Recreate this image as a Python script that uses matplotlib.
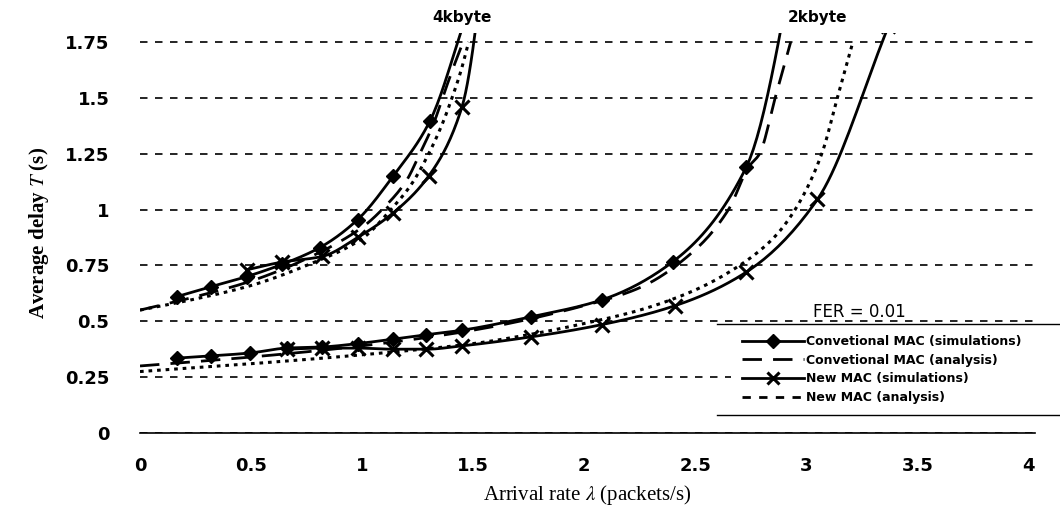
import numpy as np
import matplotlib.pyplot as plt

plt.rcParams['mathtext.fontset'] = 'stix'

# 4 kbyte packets
conv_sim_4k_x = [0.165, 0.32, 0.48, 0.64, 0.81, 0.98, 1.14, 1.305, 1.47]
conv_sim_4k_y = [0.61, 0.655, 0.70, 0.755, 0.83, 0.955, 1.15, 1.395, 1.87]
new_sim_4k_x = [0.48, 0.64, 0.82, 0.98, 1.14, 1.30, 1.45, 1.61]
new_sim_4k_y = [0.73, 0.765, 0.79, 0.875, 0.985, 1.15, 1.46, 2.62]
conv_ana_4k_x = [0, 0.25, 0.5, 0.75, 1.0, 1.1, 1.2, 1.26, 1.32, 1.38, 1.42, 1.455]
conv_ana_4k_y = [0.55, 0.61, 0.68, 0.78, 0.92, 1.01, 1.13, 1.25, 1.38, 1.55, 1.66, 1.75]
new_ana_4k_x = [0, 0.25, 0.5, 0.75, 1.0, 1.13, 1.22, 1.30, 1.36, 1.405, 1.445, 1.48]
new_ana_4k_y = [0.55, 0.60, 0.66, 0.75, 0.87, 1.0, 1.11, 1.25, 1.38, 1.5, 1.62, 1.75]

# 2 kbyte packets
conv_sim_2k_x = [0.165, 0.32, 0.495, 0.66, 0.82, 0.98, 1.14, 1.29, 1.45, 1.76, 2.08, 2.40, 2.73, 3.05]
conv_sim_2k_y = [0.335, 0.345, 0.358, 0.38, 0.385, 0.40, 0.42, 0.44, 0.46, 0.52, 0.596, 0.767, 1.19, 2.68]
new_sim_2k_x = [0.66, 0.82, 0.98, 1.14, 1.29, 1.45, 1.76, 2.08, 2.41, 2.73, 3.05, 3.37]
new_sim_2k_y = [0.375, 0.38, 0.38, 0.375, 0.375, 0.39, 0.43, 0.485, 0.57, 0.72, 1.045, 1.82]
conv_ana_2k_x = [0, 0.5, 1.0, 1.5, 2.0, 2.25, 2.5, 2.65, 2.74, 2.79, 2.86, 2.93]
conv_ana_2k_y = [0.30, 0.34, 0.39, 0.46, 0.57, 0.65, 0.82, 1.0, 1.19, 1.25, 1.5, 1.75]
new_ana_2k_x = [0, 0.5, 1.0, 1.5, 1.75, 2.0, 2.25, 2.5, 2.7, 2.85, 2.95, 3.07, 3.14, 3.21]
new_ana_2k_y = [0.275, 0.31, 0.35, 0.40, 0.44, 0.49, 0.55, 0.64, 0.75, 0.87, 1.0, 1.25, 1.5, 1.75]

x_ticks = [0, 0.5, 1, 1.5, 2, 2.5, 3, 3.5, 4]
x_tick_labels = ['0', '0.5', '1', '1.5', '2', '2.5', '3', '3.5', '4']
y_ticks = [0, 0.25, 0.5, 0.75, 1, 1.25, 1.5, 1.75]
y_tick_labels = ['0', '0.25', '0.5', '0.75', '1', '1.25', '1.5', '1.75']


def smooth(xs, ys, n=20):
    # monotone cubic (Fritsch-Carlson) path through the points, no overshoot
    x = np.asarray(xs, float)
    y = np.asarray(ys, float)
    h = np.diff(x)
    d = np.diff(y) / h
    m = np.zeros_like(y)
    m[0], m[-1] = d[0], d[-1]
    for i in range(1, len(x) - 1):
        if d[i - 1] * d[i] <= 0:
            m[i] = 0
        else:
            w1 = 2 * h[i] + h[i - 1]
            w2 = h[i] + 2 * h[i - 1]
            m[i] = (w1 + w2) / (w1 / d[i - 1] + w2 / d[i])
    px, py = [], []
    for i in range(len(x) - 1):
        t = np.linspace(0, 1, n, endpoint=False)
        h00 = 2 * t ** 3 - 3 * t ** 2 + 1
        h10 = t ** 3 - 2 * t ** 2 + t
        h01 = -2 * t ** 3 + 3 * t ** 2
        h11 = t ** 3 - t ** 2
        px.append(x[i] + t * h[i])
        py.append(h00 * y[i] + h10 * h[i] * m[i] + h01 * y[i + 1] + h11 * h[i] * m[i + 1])
    px.append([x[-1]])
    py.append([y[-1]])
    return np.concatenate(px), np.concatenate(py)


fig = plt.figure(figsize=(10.6, 5.12), dpi=100)
ax = fig.add_axes([140 / 1060, 1 - 433 / 512, 895 / 1060, 400 / 512])

sim_kw = dict(color='black', lw=2)
dash_kw = dict(color='black', lw=2, ls=(0, (7, 4)))
dot_kw = dict(color='black', lw=2.2, ls=(0, (1.2, 1.6)))

groups = [
    (conv_sim_4k_x, conv_sim_4k_y, new_sim_4k_x, new_sim_4k_y,
     conv_ana_4k_x, conv_ana_4k_y, new_ana_4k_x, new_ana_4k_y),
    (conv_sim_2k_x, conv_sim_2k_y, new_sim_2k_x, new_sim_2k_y,
     conv_ana_2k_x, conv_ana_2k_y, new_ana_2k_x, new_ana_2k_y),
]

for cx, cy, nx, ny, ax_, ay_, bx, by in groups:
    ax.plot(*smooth(cx, cy), **sim_kw)
    ax.plot(cx, cy, ls='none', marker='D', ms=7, mfc='black', mec='black')
    ax.plot(*smooth(ax_, ay_), **dash_kw)
    ax.plot(*smooth(nx, ny), **sim_kw)
    ax.plot(nx, ny, ls='none', marker='x', ms=10, mew=2.2, mec='black')
    ax.plot(*smooth(bx, by), **dot_kw)

# legend proxies
ax.plot([], [], marker='D', ms=7, mfc='black', mec='black',
        label='Convetional MAC (simulations)', **sim_kw)
ax.plot([], [], label='Convetional MAC (analysis)', **dash_kw)
ax.plot([], [], marker='x', ms=8, mew=2.2, mec='black',
        label='New MAC (simulations)', **sim_kw)
ax.plot([], [], label='New MAC (analysis)', color='black', lw=2, ls=(0, (3, 3)))

ax.set_xlim(0, 4.03)
ax.set_ylim(0, 1.79)
ax.set_xticks(x_ticks)
ax.set_xticklabels(x_tick_labels)
ax.set_yticks(y_ticks)
ax.set_yticklabels(y_tick_labels)
for lab in ax.get_xticklabels() + ax.get_yticklabels():
    lab.set_fontsize(13)
    lab.set_fontweight('bold')
ax.tick_params(axis='x', length=0, pad=17)
ax.tick_params(axis='y', length=0, pad=22)

ax.grid(axis='y', color='black', lw=1.2, ls=(0, (4.5, 4.5)))
ax.set_axisbelow(True)
for s in ['left', 'right', 'top']:
    ax.spines[s].set_visible(False)
ax.spines['bottom'].set_linewidth(1.2)

ax.set_xlabel(r'Arrival rate $\lambda$ (packets/s)', family='Liberation Serif',
              fontsize=15, labelpad=6)
ax.set_ylabel(r'Average delay $T$ (s)', family='Liberation Serif',
              fontsize=15, fontweight='bold', labelpad=10)

ax.text(1.45, 1.86, '4kbyte', ha='center', va='center', fontsize=11,
        fontweight='bold', clip_on=False)
ax.text(3.05, 1.86, '2kbyte', ha='center', va='center', fontsize=11,
        fontweight='bold', clip_on=False)

leg = ax.legend(loc='upper left', bbox_to_anchor=(0.66, 0.045, 0.37, 0.228),
                mode='expand', frameon=True, fancybox=False, framealpha=1,
                prop=dict(size=9, weight='bold'), handlelength=5,
                handletextpad=0.15, labelspacing=0.45, borderaxespad=0,
                borderpad=0.9)
leg.get_frame().set_edgecolor('none')
leg.set_zorder(5)
ax.plot([0.645, 1.03], [0.273, 0.273], transform=ax.transAxes, color='black',
        lw=1, clip_on=False, zorder=6)
ax.plot([0.645, 1.03], [0.045, 0.045], transform=ax.transAxes, color='black',
        lw=1, clip_on=False, zorder=6)
ax.text(0.804, 0.3025, 'FER = 0.01', transform=ax.transAxes, ha='center',
        va='center', fontsize=12, zorder=6)

plt.savefig('out.png', dpi=100)
